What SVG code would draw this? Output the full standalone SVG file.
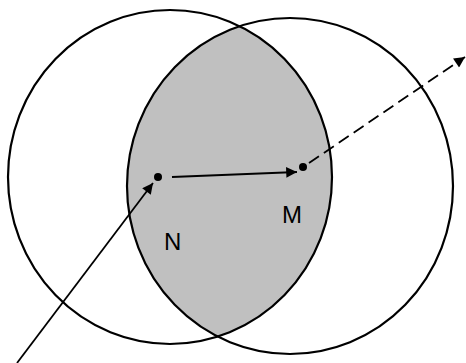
<svg xmlns="http://www.w3.org/2000/svg" width="466" height="363" viewBox="0 0 466 363">
<style>
.c{fill:none;stroke:#000;stroke-width:2.2}
.l{stroke:#000;stroke-width:1.8;fill:none}
.t{font-family:"Liberation Sans",Arial,sans-serif;font-size:24px;fill:#000}
</style>
<defs>
<clipPath id="cl"><ellipse cx="170" cy="177" rx="162" ry="167"/></clipPath>
<marker id="ah" viewBox="0 0 10 10" refX="10" refY="5" markerWidth="8" markerHeight="6" markerUnits="strokeWidth" orient="auto"><path d="M0,0L10,5L0,10z" fill="#000"/></marker>
</defs>
<rect width="466" height="363" fill="#fff"/>
<g id="lens"><ellipse cx="290" cy="186" rx="163" ry="168" fill="#c0c0c0" clip-path="url(#cl)"/></g>
<g id="circleA"><ellipse class="c" cx="170" cy="177" rx="162" ry="167"/></g>
<g id="circleB"><ellipse class="c" cx="290" cy="186" rx="163" ry="168"/></g>
<g id="connectors">
<line class="l" x1="17" y1="363" x2="153" y2="183" marker-end="url(#ah)"/>
<line class="l" x1="172" y1="177" x2="297" y2="172" stroke-width="2" marker-end="url(#ah)"/>
<line class="l" x1="309" y1="163" x2="465" y2="57" stroke-width="2" stroke-dasharray="12,6" marker-end="url(#ah)"/>
</g>
<g id="N"><circle cx="158" cy="177" r="4"/><text class="t" x="164" y="250">N</text></g>
<g id="M"><circle cx="303" cy="167" r="4"/><text class="t" x="282" y="223">M</text></g>
</svg>
